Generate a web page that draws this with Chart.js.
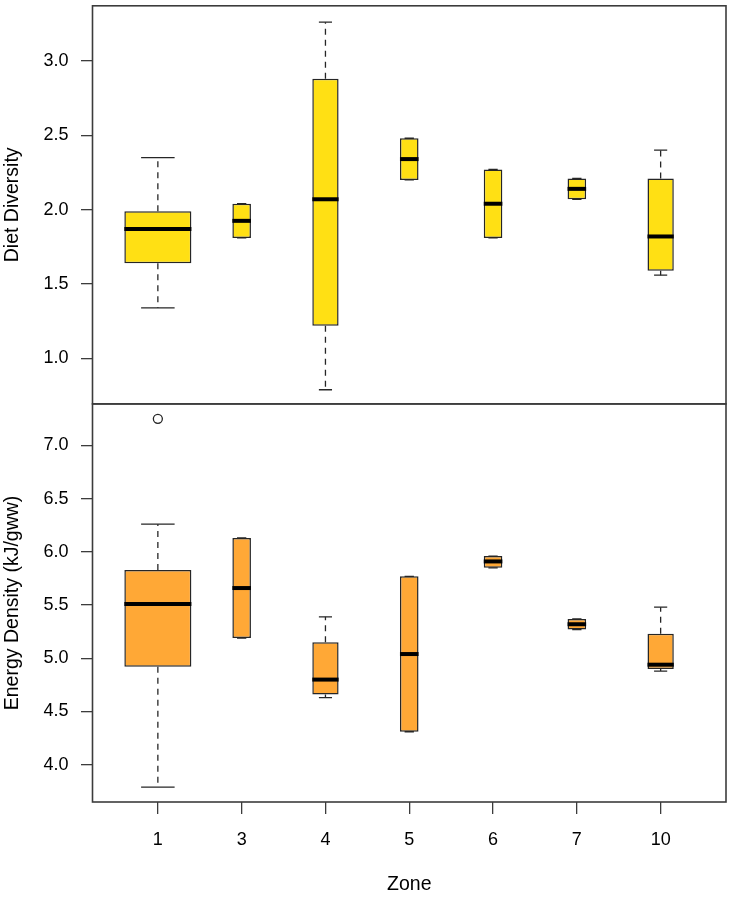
<!DOCTYPE html>
<html lang="en">
<head>
    <meta charset="UTF-8" />
    <title>Diet diversity and energy density by zone</title>
    <script src="https://cdn.jsdelivr.net/npm/chart.js@4.4.1/dist/chart.umd.min.js"></script>
    <style>
        html, body { margin: 0; padding: 0; background: #fff; }
        #wrap { position: relative; width: 732px; height: 897px; }
    </style>
</head>
<body>
    <div id="wrap"><canvas id="boxChart"></canvas></div>
    <script>
        // zones on the x axis, and how many samples sit behind each box (varwidth)
        const zones = ['1', '3', '4', '5', '6', '7', '10'];
        const sampleSize = [26, 2, 4, 2, 2, 2, 4];

        // Diet Diversity (top panel)
        const dietLow    = [1.34, 1.81, 0.79, 2.20, 1.81, 2.07, 1.56];
        const dietQ1     = [1.64, 1.81, 1.22, 2.20, 1.81, 2.07, 1.59];
        const dietMedian = [1.87, 1.925, 2.07, 2.34, 2.04, 2.14, 1.82];
        const dietQ3     = [1.99, 2.04, 2.88, 2.48, 2.27, 2.21, 2.21];
        const dietHigh   = [2.35, 2.04, 3.26, 2.48, 2.27, 2.21, 2.40];
        const dietTicks  = [1.0, 1.5, 2.0, 2.5, 3.0];

        // Energy Density (bottom panel)
        const energyLow    = [3.79, 5.19, 4.63, 4.31, 5.85, 5.27, 4.88];
        const energyQ1     = [4.92, 5.19, 4.66, 4.31, 5.85, 5.27, 4.90];
        const energyMedian = [5.51, 5.66, 4.80, 5.04, 5.91, 5.32, 4.94];
        const energyQ3     = [5.83, 6.13, 5.15, 5.77, 5.96, 5.37, 5.23];
        const energyHigh   = [6.26, 6.13, 5.39, 5.77, 5.96, 5.37, 5.48];
        const energyTicks  = [4.0, 4.5, 5.0, 5.5, 6.0, 6.5, 7.0];
        const energyOutlierZone  = ['1'];
        const energyOutlierValue = [7.25];

        const font = { family: "'Liberation Sans', Arial, sans-serif", size: 18 };
        const titleFont = { family: "'Liberation Sans', Arial, sans-serif", size: 19.5 };
        const textColor = '#000';
        const lineColor = '#262626';
        const maxN = Math.max(...sampleSize);

        // one floating bar dataset per zone so each box can get its own width
        function boxDatasets(axisId, fill, low, q1, med, q3, high) {
            return zones.map((z, i) => ({
                type: 'bar',
                label: z,
                yAxisID: axisId,
                data: [{ x: i + 1, y: [q1[i], q3[i]] }],
                backgroundColor: fill,
                borderColor: lineColor,
                borderWidth: 1.5,
                borderSkipped: false,
                grouped: false,
                categoryPercentage: 1,
                barPercentage: 0.8 * Math.sqrt(sampleSize[i] / maxN),
                box: { low: low[i], median: med[i], high: high[i], q1: q1[i], q3: q3[i] }
            }));
        }

        const boxPlotPlugin = {
            id: 'boxPlot',
            afterDatasetsDraw(chart) {
                const ctx = chart.ctx;
                chart.data.datasets.forEach((ds, i) => {
                    if (!ds.box) return;
                    const bar = chart.getDatasetMeta(i).data[0];
                    const { x, width } = bar.getProps(['x', 'width'], true);
                    const yScale = chart.scales[ds.yAxisID];
                    const yLow = yScale.getPixelForValue(ds.box.low);
                    const yQ1 = yScale.getPixelForValue(ds.box.q1);
                    const yQ3 = yScale.getPixelForValue(ds.box.q3);
                    const yHigh = yScale.getPixelForValue(ds.box.high);
                    const yMed = yScale.getPixelForValue(ds.box.median);
                    const half = width / 2;

                    ctx.save();
                    ctx.strokeStyle = lineColor;
                    ctx.lineWidth = 1.3;
                    // dashed whiskers
                    ctx.setLineDash([6, 5]);
                    ctx.beginPath();
                    if (yHigh < yQ3 - 0.5) { ctx.moveTo(x, yQ3); ctx.lineTo(x, yHigh); }
                    if (yLow > yQ1 + 0.5) { ctx.moveTo(x, yQ1); ctx.lineTo(x, yLow); }
                    ctx.stroke();
                    // staples
                    ctx.setLineDash([]);
                    ctx.beginPath();
                    ctx.moveTo(x - half / 2, yHigh); ctx.lineTo(x + half / 2, yHigh);
                    ctx.moveTo(x - half / 2, yLow); ctx.lineTo(x + half / 2, yLow);
                    ctx.stroke();
                    // median
                    ctx.strokeStyle = '#000';
                    ctx.lineWidth = 4;
                    ctx.beginPath();
                    ctx.moveTo(x - half, yMed); ctx.lineTo(x + half, yMed);
                    ctx.stroke();
                    ctx.restore();
                });

                // frame round each panel
                const area = chart.chartArea;
                ctx.save();
                ctx.strokeStyle = '#3c3c3c';
                ctx.lineWidth = 1.6;
                ['yTop', 'yBottom'].forEach(id => {
                    const s = chart.scales[id];
                    ctx.strokeRect(area.left, s.top, area.right - area.left, s.bottom - s.top);
                });
                ctx.restore();
            }
        };

        const datasets = [
            ...boxDatasets('yTop', '#FFE014', dietLow, dietQ1, dietMedian, dietQ3, dietHigh),
            ...boxDatasets('yBottom', '#FFA836', energyLow, energyQ1, energyMedian, energyQ3, energyHigh),
            {
                type: 'scatter',
                label: 'outliers',
                yAxisID: 'yBottom',
                data: energyOutlierZone.map((z, i) => ({ x: zones.indexOf(z) + 1, y: energyOutlierValue[i] })),
                pointRadius: 4.5,
                pointBorderWidth: 1.3,
                pointBorderColor: lineColor,
                pointBackgroundColor: 'rgba(0,0,0,0)'
            }
        ];

        function yAxis(title, min, max, ticks) {
            return {
                type: 'linear',
                position: 'left',
                stack: 'panels',
                stackWeight: 1,
                offset: false,
                min: min,
                max: max,
                afterBuildTicks: s => { s.ticks = ticks.map(v => ({ value: v })); },
                afterFit: s => { s.width = 92.5; s.paddingTop = 0; s.paddingBottom = 0; },
                grid: { drawOnChartArea: false, drawTicks: true, tickLength: 11.5, color: '#3c3c3c', lineWidth: 1.3 },
                border: { display: false },
                ticks: { font: font, color: textColor, padding: 12.5, callback: v => v.toFixed(1) },
                title: { display: true, text: title, font: titleFont, color: textColor, padding: { top: 1, bottom: 0 } }
            };
        }

        new Chart(document.getElementById('boxChart'), {
            type: 'bar',
            data: { datasets: datasets },
            options: {
                responsive: true,
                maintainAspectRatio: false,
                animation: false,
                layout: { padding: { top: 2, right: 6, left: 0, bottom: 0 } },
                plugins: { legend: { display: false }, tooltip: { enabled: false } },
                scales: {
                    x: {
                        type: 'linear',
                        offset: false,
                        min: 0.22,
                        max: 7.78,
                        afterBuildTicks: s => { s.ticks = zones.map((z, i) => ({ value: i + 1 })); },
                        afterFit: s => { s.height = 95; s.paddingLeft = 0; s.paddingRight = 0; },
                        grid: { offset: false, drawOnChartArea: false, drawTicks: true, tickLength: 12, color: '#3c3c3c', lineWidth: 1.3 },
                        border: { display: false },
                        ticks: { font: font, color: textColor, padding: 15, maxRotation: 0, autoSkip: false,
                                 callback: v => zones[v - 1] },
                        title: { display: true, text: 'Zone', font: titleFont, color: textColor, padding: { top: 0, bottom: 1 } }
                    },
                    // the later axis in a stack is placed higher up
                    yBottom: yAxis('Energy Density (kJ/gww)', 3.65, 7.39, energyTicks),
                    yTop: yAxis('Diet Diversity', 0.695, 3.37, dietTicks)
                }
            },
            plugins: [boxPlotPlugin]
        });
    </script>
</body>
</html>
